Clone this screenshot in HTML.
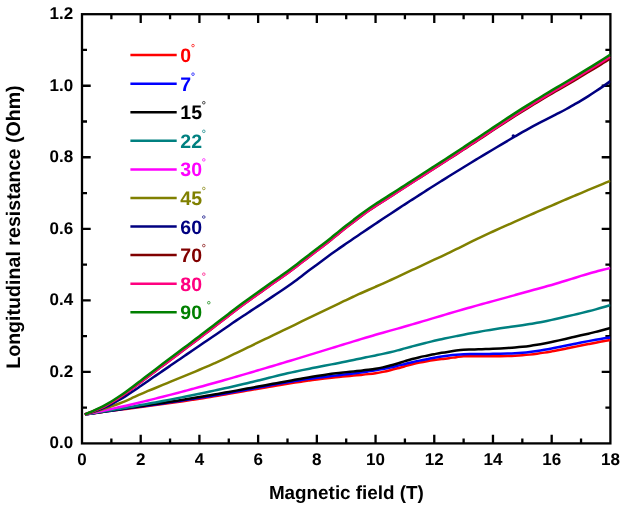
<!DOCTYPE html><html><head><meta charset="utf-8"><style>html,body{margin:0;padding:0;background:#fff}body{width:623px;height:505px;position:relative;overflow:hidden}</style></head><body><svg width="623" height="505" viewBox="0 0 623 505" style="position:absolute;left:0;top:0;will-change:transform" text-rendering="geometricPrecision">
<defs><clipPath id="c"><rect x="82.00" y="14.20" width="528.40" height="429.20"/></clipPath></defs>
<g stroke="#000" stroke-width="2.3" fill="none">
<rect x="82.00" y="14.20" width="528.40" height="429.20"/>
<path d="M111.36,443.40v-5M111.36,14.20v5M140.71,443.40v-8.7M140.71,14.20v8.7M170.07,443.40v-5M170.07,14.20v5M199.42,443.40v-8.7M199.42,14.20v8.7M228.78,443.40v-5M228.78,14.20v5M258.13,443.40v-8.7M258.13,14.20v8.7M287.49,443.40v-5M287.49,14.20v5M316.84,443.40v-8.7M316.84,14.20v8.7M346.20,443.40v-5M346.20,14.20v5M375.56,443.40v-8.7M375.56,14.20v8.7M404.91,443.40v-5M404.91,14.20v5M434.27,443.40v-8.7M434.27,14.20v8.7M463.62,443.40v-5M463.62,14.20v5M492.98,443.40v-8.7M492.98,14.20v8.7M522.33,443.40v-5M522.33,14.20v5M551.69,443.40v-8.7M551.69,14.20v8.7M581.04,443.40v-5M581.04,14.20v5M82.00,407.63h5M610.40,407.63h-5M82.00,371.87h8.7M610.40,371.87h-8.7M82.00,336.10h5M610.40,336.10h-5M82.00,300.33h8.7M610.40,300.33h-8.7M82.00,264.57h5M610.40,264.57h-5M82.00,228.80h8.7M610.40,228.80h-8.7M82.00,193.03h5M610.40,193.03h-5M82.00,157.27h8.7M610.40,157.27h-8.7M82.00,121.50h5M610.40,121.50h-5M82.00,85.73h8.7M610.40,85.73h-8.7M82.00,49.97h5M610.40,49.97h-5"/>
</g>
<g clip-path="url(#c)" fill="none" stroke-width="2.5" stroke-linejoin="round">
<path d="M84.85,414.50 C85.35,414.43 86.39,414.28 87.87,414.07 C89.35,413.86 91.79,413.51 93.74,413.24 C95.70,412.96 97.66,412.69 99.61,412.42 C101.57,412.15 103.53,411.89 105.48,411.62 C107.44,411.36 109.15,411.13 111.36,410.83 C113.56,410.54 116.25,410.18 118.69,409.86 C121.14,409.54 123.59,409.22 126.03,408.90 C128.48,408.57 130.93,408.26 133.37,407.94 C135.82,407.62 138.26,407.30 140.71,406.98 C143.16,406.65 145.60,406.33 148.05,406.01 C150.50,405.69 152.94,405.36 155.39,405.04 C157.84,404.71 160.28,404.38 162.73,404.05 C165.17,403.71 167.62,403.38 170.07,403.04 C172.51,402.70 174.96,402.35 177.41,402.00 C179.85,401.65 182.30,401.30 184.74,400.94 C187.19,400.58 189.64,400.22 192.08,399.84 C194.53,399.47 196.98,399.09 199.42,398.71 C201.87,398.32 204.31,397.93 206.76,397.53 C209.21,397.13 211.65,396.73 214.10,396.32 C216.55,395.91 218.99,395.49 221.44,395.08 C223.89,394.66 226.33,394.23 228.78,393.81 C231.22,393.39 233.67,392.96 236.12,392.53 C238.56,392.10 241.01,391.67 243.46,391.24 C245.90,390.81 248.35,390.38 250.79,389.95 C253.24,389.52 255.69,389.10 258.13,388.67 C260.58,388.24 263.03,387.82 265.47,387.40 C267.92,386.98 270.36,386.56 272.81,386.15 C275.26,385.74 277.70,385.33 280.15,384.93 C282.60,384.53 285.04,384.13 287.49,383.75 C289.94,383.36 292.38,382.97 294.83,382.60 C297.27,382.23 299.72,381.86 302.17,381.50 C304.61,381.15 307.06,380.80 309.51,380.46 C311.95,380.12 314.40,379.79 316.84,379.48 C319.29,379.16 321.74,378.85 324.18,378.56 C326.63,378.26 329.08,377.98 331.52,377.71 C333.97,377.44 336.41,377.18 338.86,376.94 C341.31,376.70 343.75,376.47 346.20,376.25 C348.65,376.03 351.09,375.84 353.54,375.62 C355.99,375.40 358.43,375.17 360.88,374.92 C363.32,374.67 365.77,374.42 368.22,374.13 C370.66,373.84 373.11,373.55 375.56,373.18 C378.00,372.80 380.45,372.36 382.89,371.87 C385.34,371.37 387.79,370.81 390.23,370.22 C392.68,369.63 395.13,368.97 397.57,368.30 C400.02,367.64 402.46,366.90 404.91,366.23 C407.36,365.56 409.80,364.89 412.25,364.29 C414.70,363.68 417.14,363.11 419.59,362.59 C422.04,362.07 424.48,361.60 426.93,361.16 C429.37,360.73 431.82,360.34 434.27,359.98 C436.71,359.62 439.16,359.30 441.61,359.01 C444.05,358.71 446.50,358.53 448.94,358.22 C451.39,357.92 453.84,357.50 456.28,357.17 C458.73,356.85 461.18,356.43 463.62,356.26 C466.07,356.10 468.51,356.18 470.96,356.17 C473.41,356.15 475.85,356.15 478.30,356.15 C480.75,356.15 483.19,356.17 485.64,356.18 C488.09,356.18 490.53,356.20 492.98,356.20 C495.42,356.19 497.87,356.19 500.32,356.16 C502.76,356.14 505.21,356.10 507.66,356.03 C510.10,355.97 512.55,355.88 514.99,355.76 C517.44,355.64 519.89,355.49 522.33,355.30 C524.78,355.11 527.23,354.89 529.67,354.62 C532.12,354.36 534.56,354.06 537.01,353.72 C539.46,353.39 541.90,353.02 544.35,352.62 C546.80,352.23 549.24,351.80 551.69,351.37 C554.14,350.93 556.58,350.46 559.03,349.99 C561.47,349.52 563.92,349.02 566.37,348.53 C568.81,348.04 571.26,347.54 573.71,347.04 C576.15,346.54 578.60,346.04 581.04,345.55 C583.49,345.06 585.94,344.57 588.38,344.09 C590.83,343.61 593.28,343.12 595.72,342.66 C598.17,342.20 600.61,341.74 603.06,341.30 C605.51,340.86 609.18,340.25 610.40,340.04" stroke="#ff0000"/>
<path d="M84.85,414.50 C85.35,414.43 86.39,414.27 87.87,414.06 C89.35,413.84 91.79,413.48 93.74,413.20 C95.70,412.92 97.66,412.63 99.61,412.35 C101.57,412.07 103.53,411.79 105.48,411.51 C107.44,411.23 109.15,410.99 111.36,410.68 C113.56,410.36 116.25,409.98 118.69,409.64 C121.14,409.29 123.59,408.95 126.03,408.60 C128.48,408.26 130.93,407.92 133.37,407.57 C135.82,407.23 138.26,406.88 140.71,406.54 C143.16,406.19 145.60,405.84 148.05,405.50 C150.50,405.15 152.94,404.80 155.39,404.45 C157.84,404.10 160.28,403.75 162.73,403.39 C165.17,403.04 167.62,402.68 170.07,402.32 C172.51,401.96 174.96,401.60 177.41,401.23 C179.85,400.87 182.30,400.50 184.74,400.13 C187.19,399.75 189.64,399.38 192.08,399.00 C194.53,398.62 196.98,398.23 199.42,397.84 C201.87,397.46 204.31,397.06 206.76,396.66 C209.21,396.27 211.65,395.86 214.10,395.45 C216.55,395.04 218.99,394.63 221.44,394.21 C223.89,393.79 226.33,393.36 228.78,392.93 C231.22,392.49 233.67,392.05 236.12,391.61 C238.56,391.17 241.01,390.72 243.46,390.26 C245.90,389.81 248.35,389.36 250.79,388.90 C253.24,388.45 255.69,387.99 258.13,387.54 C260.58,387.08 263.03,386.63 265.47,386.18 C267.92,385.73 270.36,385.28 272.81,384.83 C275.26,384.39 277.70,383.95 280.15,383.52 C282.60,383.09 285.04,382.66 287.49,382.25 C289.94,381.83 292.38,381.42 294.83,381.03 C297.27,380.63 299.72,380.24 302.17,379.87 C304.61,379.50 307.06,379.13 309.51,378.79 C311.95,378.44 314.40,378.11 316.84,377.79 C319.29,377.48 321.74,377.18 324.18,376.89 C326.63,376.59 329.08,376.32 331.52,376.04 C333.97,375.76 336.41,375.49 338.86,375.21 C341.31,374.93 343.75,374.65 346.20,374.36 C348.65,374.07 351.09,373.77 353.54,373.45 C355.99,373.14 358.43,372.80 360.88,372.45 C363.32,372.11 365.77,371.75 368.22,371.39 C370.66,371.03 373.11,370.67 375.56,370.27 C378.00,369.88 380.45,369.47 382.89,369.02 C385.34,368.56 387.79,368.08 390.23,367.54 C392.68,367.00 395.13,366.39 397.57,365.79 C400.02,365.19 402.46,364.52 404.91,363.92 C407.36,363.31 409.80,362.72 412.25,362.17 C414.70,361.61 417.14,361.10 419.59,360.60 C422.04,360.09 424.48,359.62 426.93,359.15 C429.37,358.68 431.82,358.21 434.27,357.78 C436.71,357.34 439.16,356.92 441.61,356.55 C444.05,356.18 446.50,355.84 448.94,355.55 C451.39,355.26 453.84,355.01 456.28,354.80 C458.73,354.60 461.18,354.42 463.62,354.30 C466.07,354.18 468.51,354.13 470.96,354.07 C473.41,354.01 475.85,353.98 478.30,353.95 C480.75,353.92 483.19,353.91 485.64,353.90 C488.09,353.88 490.53,353.88 492.98,353.86 C495.42,353.83 497.87,353.82 500.32,353.77 C502.76,353.73 505.21,353.68 507.66,353.59 C510.10,353.51 512.55,353.41 514.99,353.27 C517.44,353.13 519.89,352.96 522.33,352.75 C524.78,352.53 527.23,352.28 529.67,351.98 C532.12,351.69 534.56,351.36 537.01,351.00 C539.46,350.63 541.90,350.23 544.35,349.81 C546.80,349.39 549.24,348.94 551.69,348.47 C554.14,348.01 556.58,347.52 559.03,347.03 C561.47,346.54 563.92,346.04 566.37,345.53 C568.81,345.03 571.26,344.52 573.71,344.02 C576.15,343.52 578.60,343.03 581.04,342.55 C583.49,342.06 585.94,341.59 588.38,341.12 C590.83,340.66 593.28,340.20 595.72,339.77 C598.17,339.33 600.61,338.91 603.06,338.51 C605.51,338.12 609.18,337.58 610.40,337.39" stroke="#0000ff"/>
<path d="M84.85,414.50 C85.35,414.42 86.39,414.26 87.87,414.04 C89.35,413.81 91.79,413.44 93.74,413.15 C95.70,412.85 97.66,412.56 99.61,412.27 C101.57,411.98 103.53,411.69 105.48,411.40 C107.44,411.11 109.15,410.85 111.36,410.53 C113.56,410.20 116.25,409.81 118.69,409.45 C121.14,409.09 123.59,408.73 126.03,408.37 C128.48,408.01 130.93,407.65 133.37,407.29 C135.82,406.93 138.26,406.57 140.71,406.20 C143.16,405.84 145.60,405.48 148.05,405.11 C150.50,404.75 152.94,404.38 155.39,404.02 C157.84,403.65 160.28,403.28 162.73,402.91 C165.17,402.53 167.62,402.16 170.07,401.78 C172.51,401.40 174.96,401.02 177.41,400.64 C179.85,400.25 182.30,399.86 184.74,399.47 C187.19,399.08 189.64,398.68 192.08,398.28 C194.53,397.88 196.98,397.48 199.42,397.07 C201.87,396.66 204.31,396.24 206.76,395.82 C209.21,395.40 211.65,394.98 214.10,394.55 C216.55,394.12 218.99,393.69 221.44,393.26 C223.89,392.82 226.33,392.38 228.78,391.94 C231.22,391.50 233.67,391.06 236.12,390.61 C238.56,390.17 241.01,389.72 243.46,389.27 C245.90,388.82 248.35,388.37 250.79,387.92 C253.24,387.47 255.69,387.02 258.13,386.56 C260.58,386.11 263.03,385.66 265.47,385.20 C267.92,384.75 270.36,384.29 272.81,383.84 C275.26,383.39 277.70,382.94 280.15,382.49 C282.60,382.03 285.04,381.58 287.49,381.14 C289.94,380.69 292.38,380.24 294.83,379.80 C297.27,379.36 299.72,378.92 302.17,378.49 C304.61,378.06 307.06,377.64 309.51,377.23 C311.95,376.81 314.40,376.41 316.84,376.02 C319.29,375.63 321.74,375.25 324.18,374.89 C326.63,374.53 329.08,374.18 331.52,373.85 C333.97,373.52 336.41,373.21 338.86,372.92 C341.31,372.63 343.75,372.37 346.20,372.12 C348.65,371.87 351.09,371.66 353.54,371.42 C355.99,371.18 358.43,370.95 360.88,370.69 C363.32,370.43 365.77,370.17 368.22,369.85 C370.66,369.53 373.11,369.21 375.56,368.79 C378.00,368.37 380.45,367.89 382.89,367.35 C385.34,366.80 387.79,366.19 390.23,365.54 C392.68,364.89 395.13,364.16 397.57,363.43 C400.02,362.70 402.46,361.89 404.91,361.15 C407.36,360.41 409.80,359.65 412.25,358.99 C414.70,358.33 417.14,357.73 419.59,357.17 C422.04,356.61 424.48,356.16 426.93,355.66 C429.37,355.16 431.82,354.66 434.27,354.18 C436.71,353.71 439.16,353.22 441.61,352.80 C444.05,352.37 446.50,352.00 448.94,351.64 C451.39,351.27 453.84,350.91 456.28,350.61 C458.73,350.31 461.18,350.01 463.62,349.83 C466.07,349.64 468.51,349.60 470.96,349.51 C473.41,349.43 475.85,349.38 478.30,349.31 C480.75,349.24 483.19,349.19 485.64,349.10 C488.09,349.02 490.53,348.91 492.98,348.80 C495.42,348.68 497.87,348.54 500.32,348.40 C502.76,348.27 505.21,348.13 507.66,347.97 C510.10,347.81 512.55,347.65 514.99,347.45 C517.44,347.25 519.89,347.04 522.33,346.79 C524.78,346.53 527.23,346.25 529.67,345.93 C532.12,345.60 534.56,345.23 537.01,344.82 C539.46,344.42 541.90,343.97 544.35,343.50 C546.80,343.02 549.24,342.52 551.69,341.99 C554.14,341.47 556.58,340.93 559.03,340.37 C561.47,339.82 563.92,339.25 566.37,338.69 C568.81,338.12 571.26,337.55 573.71,336.99 C576.15,336.43 578.60,335.88 581.04,335.33 C583.49,334.77 585.94,334.23 588.38,333.66 C590.83,333.08 593.28,332.49 595.72,331.88 C598.17,331.27 600.61,330.64 603.06,329.99 C605.51,329.34 609.18,328.32 610.40,327.98" stroke="#000000"/>
<path d="M84.85,414.50 C85.35,414.42 86.39,414.25 87.87,414.02 C89.35,413.78 91.79,413.40 93.74,413.08 C95.70,412.77 97.66,412.45 99.61,412.14 C101.57,411.82 103.53,411.50 105.48,411.17 C107.44,410.85 109.15,410.57 111.36,410.20 C113.56,409.83 116.25,409.37 118.69,408.96 C121.14,408.54 123.59,408.12 126.03,407.69 C128.48,407.27 130.93,406.84 133.37,406.41 C135.82,405.97 138.26,405.54 140.71,405.10 C143.16,404.66 145.60,404.21 148.05,403.77 C150.50,403.32 152.94,402.86 155.39,402.41 C157.84,401.95 160.28,401.49 162.73,401.03 C165.17,400.56 167.62,400.10 170.07,399.62 C172.51,399.15 174.96,398.67 177.41,398.19 C179.85,397.71 182.30,397.23 184.74,396.74 C187.19,396.25 189.64,395.75 192.08,395.26 C194.53,394.76 196.98,394.26 199.42,393.75 C201.87,393.24 204.31,392.73 206.76,392.22 C209.21,391.70 211.65,391.18 214.10,390.65 C216.55,390.13 218.99,389.60 221.44,389.06 C223.89,388.52 226.33,387.98 228.78,387.43 C231.22,386.88 233.67,386.33 236.12,385.77 C238.56,385.21 241.01,384.64 243.46,384.07 C245.90,383.49 248.35,382.91 250.79,382.33 C253.24,381.74 255.69,381.14 258.13,380.54 C260.58,379.94 263.03,379.33 265.47,378.72 C267.92,378.11 270.36,377.49 272.81,376.88 C275.26,376.28 277.70,375.67 280.15,375.08 C282.60,374.49 285.04,373.91 287.49,373.34 C289.94,372.78 292.38,372.24 294.83,371.70 C297.27,371.17 299.72,370.66 302.17,370.15 C304.61,369.64 307.06,369.15 309.51,368.66 C311.95,368.17 314.40,367.69 316.84,367.22 C319.29,366.74 321.74,366.27 324.18,365.80 C326.63,365.33 329.08,364.86 331.52,364.39 C333.97,363.91 336.41,363.44 338.86,362.96 C341.31,362.48 343.75,362.00 346.20,361.51 C348.65,361.01 351.09,360.51 353.54,360.00 C355.99,359.48 358.43,358.94 360.88,358.41 C363.32,357.89 365.77,357.37 368.22,356.87 C370.66,356.37 373.11,355.90 375.56,355.40 C378.00,354.90 380.45,354.41 382.89,353.88 C385.34,353.36 387.79,352.82 390.23,352.24 C392.68,351.66 395.13,351.05 397.57,350.40 C400.02,349.75 402.46,349.04 404.91,348.37 C407.36,347.69 409.80,347.01 412.25,346.36 C414.70,345.70 417.14,345.05 419.59,344.42 C422.04,343.80 424.48,343.18 426.93,342.59 C429.37,341.99 431.82,341.41 434.27,340.84 C436.71,340.28 439.16,339.73 441.61,339.19 C444.05,338.66 446.50,338.14 448.94,337.63 C451.39,337.12 453.84,336.62 456.28,336.13 C458.73,335.64 461.18,335.14 463.62,334.66 C466.07,334.18 468.51,333.71 470.96,333.25 C473.41,332.79 475.85,332.34 478.30,331.90 C480.75,331.47 483.19,331.04 485.64,330.63 C488.09,330.22 490.53,329.83 492.98,329.45 C495.42,329.07 497.87,328.71 500.32,328.35 C502.76,327.98 505.21,327.64 507.66,327.29 C510.10,326.93 512.55,326.59 514.99,326.24 C517.44,325.89 519.89,325.54 522.33,325.17 C524.78,324.81 527.23,324.45 529.67,324.05 C532.12,323.66 534.56,323.25 537.01,322.82 C539.46,322.38 541.90,321.91 544.35,321.42 C546.80,320.93 549.24,320.42 551.69,319.90 C554.14,319.37 556.58,318.83 559.03,318.28 C561.47,317.72 563.92,317.16 566.37,316.59 C568.81,316.02 571.26,315.44 573.71,314.86 C576.15,314.28 578.60,313.71 581.04,313.13 C583.49,312.54 585.94,311.95 588.38,311.33 C590.83,310.71 593.28,310.07 595.72,309.39 C598.17,308.72 600.61,308.03 603.06,307.31 C605.51,306.58 609.18,305.43 610.40,305.05" stroke="#008080"/>
<path d="M84.85,414.50 C85.35,414.40 86.39,414.19 87.87,413.89 C89.35,413.60 91.79,413.11 93.74,412.70 C95.70,412.30 97.66,411.90 99.61,411.48 C101.57,411.07 103.53,410.66 105.48,410.24 C107.44,409.82 109.15,409.45 111.36,408.96 C113.56,408.48 116.25,407.88 118.69,407.34 C121.14,406.79 123.59,406.23 126.03,405.67 C128.48,405.10 130.93,404.53 133.37,403.96 C135.82,403.38 138.26,402.80 140.71,402.21 C143.16,401.63 145.60,401.03 148.05,400.43 C150.50,399.83 152.94,399.23 155.39,398.62 C157.84,398.01 160.28,397.39 162.73,396.77 C165.17,396.15 167.62,395.52 170.07,394.89 C172.51,394.26 174.96,393.62 177.41,392.98 C179.85,392.34 182.30,391.69 184.74,391.04 C187.19,390.39 189.64,389.73 192.08,389.07 C194.53,388.41 196.98,387.74 199.42,387.07 C201.87,386.40 204.31,385.73 206.76,385.05 C209.21,384.38 211.65,383.70 214.10,383.01 C216.55,382.33 218.99,381.64 221.44,380.94 C223.89,380.25 226.33,379.56 228.78,378.86 C231.22,378.16 233.67,377.45 236.12,376.75 C238.56,376.04 241.01,375.33 243.46,374.62 C245.90,373.91 248.35,373.20 250.79,372.48 C253.24,371.76 255.69,371.04 258.13,370.32 C260.58,369.60 263.03,368.87 265.47,368.15 C267.92,367.42 270.36,366.69 272.81,365.96 C275.26,365.23 277.70,364.49 280.15,363.76 C282.60,363.03 285.04,362.29 287.49,361.55 C289.94,360.81 292.38,360.07 294.83,359.33 C297.27,358.59 299.72,357.85 302.17,357.10 C304.61,356.36 307.06,355.62 309.51,354.87 C311.95,354.13 314.40,353.38 316.84,352.63 C319.29,351.89 321.74,351.14 324.18,350.39 C326.63,349.64 329.08,348.89 331.52,348.14 C333.97,347.40 336.41,346.65 338.86,345.90 C341.31,345.15 343.75,344.40 346.20,343.65 C348.65,342.90 351.09,342.15 353.54,341.41 C355.99,340.66 358.43,339.90 360.88,339.16 C363.32,338.42 365.77,337.68 368.22,336.96 C370.66,336.23 373.11,335.52 375.56,334.82 C378.00,334.11 380.45,333.41 382.89,332.72 C385.34,332.02 387.79,331.33 390.23,330.64 C392.68,329.95 395.13,329.27 397.57,328.58 C400.02,327.89 402.46,327.20 404.91,326.50 C407.36,325.81 409.80,325.11 412.25,324.40 C414.70,323.69 417.14,322.97 419.59,322.25 C422.04,321.53 424.48,320.80 426.93,320.08 C429.37,319.35 431.82,318.62 434.27,317.90 C436.71,317.17 439.16,316.45 441.61,315.72 C444.05,315.00 446.50,314.28 448.94,313.56 C451.39,312.84 453.84,312.12 456.28,311.41 C458.73,310.69 461.18,309.98 463.62,309.27 C466.07,308.57 468.51,307.87 470.96,307.18 C473.41,306.49 475.85,305.81 478.30,305.14 C480.75,304.46 483.19,303.80 485.64,303.13 C488.09,302.47 490.53,301.81 492.98,301.14 C495.42,300.48 497.87,299.82 500.32,299.15 C502.76,298.48 505.21,297.81 507.66,297.13 C510.10,296.46 512.55,295.77 514.99,295.08 C517.44,294.39 519.89,293.70 522.33,293.02 C524.78,292.33 527.23,291.65 529.67,290.97 C532.12,290.29 534.56,289.61 537.01,288.94 C539.46,288.27 541.90,287.59 544.35,286.92 C546.80,286.25 549.24,285.61 551.69,284.92 C554.14,284.24 556.58,283.55 559.03,282.82 C561.47,282.10 563.92,281.33 566.37,280.56 C568.81,279.80 571.26,279.00 573.71,278.23 C576.15,277.45 578.60,276.67 581.04,275.92 C583.49,275.16 585.94,274.41 588.38,273.71 C590.83,273.01 593.28,272.35 595.72,271.70 C598.17,271.05 600.61,270.45 603.06,269.83 C605.51,269.21 609.18,268.29 610.40,267.98" stroke="#ff00ff"/>
<path d="M84.85,414.50 C85.35,414.36 86.39,414.09 87.87,413.67 C89.35,413.25 91.79,412.57 93.74,412.00 C95.70,411.43 97.66,410.85 99.61,410.24 C101.57,409.64 103.53,409.02 105.48,408.38 C107.44,407.74 109.15,407.17 111.36,406.39 C113.56,405.62 116.25,404.65 118.69,403.72 C121.14,402.79 123.59,401.85 126.03,400.81 C128.48,399.76 130.93,398.58 133.37,397.45 C135.82,396.32 138.26,395.11 140.71,394.03 C143.16,392.95 145.60,391.97 148.05,390.96 C150.50,389.96 152.94,389.00 155.39,388.00 C157.84,387.00 160.28,385.97 162.73,384.94 C165.17,383.92 167.62,382.86 170.07,381.84 C172.51,380.83 174.96,379.84 177.41,378.85 C179.85,377.86 182.30,376.90 184.74,375.91 C187.19,374.91 189.64,373.91 192.08,372.88 C194.53,371.85 196.98,370.78 199.42,369.74 C201.87,368.70 204.31,367.68 206.76,366.64 C209.21,365.59 211.65,364.55 214.10,363.47 C216.55,362.38 218.99,361.27 221.44,360.13 C223.89,358.99 226.33,357.79 228.78,356.61 C231.22,355.44 233.67,354.26 236.12,353.09 C238.56,351.91 241.01,350.73 243.46,349.55 C245.90,348.38 248.35,347.20 250.79,346.02 C253.24,344.84 255.69,343.66 258.13,342.48 C260.58,341.30 263.03,340.12 265.47,338.94 C267.92,337.76 270.36,336.58 272.81,335.39 C275.26,334.21 277.70,333.03 280.15,331.85 C282.60,330.67 285.04,329.49 287.49,328.30 C289.94,327.12 292.38,325.94 294.83,324.76 C297.27,323.58 299.72,322.40 302.17,321.22 C304.61,320.04 307.06,318.86 309.51,317.68 C311.95,316.50 314.40,315.32 316.84,314.14 C319.29,312.96 321.74,311.78 324.18,310.60 C326.63,309.42 329.08,308.25 331.52,307.07 C333.97,305.90 336.41,304.72 338.86,303.55 C341.31,302.37 343.75,301.19 346.20,300.02 C348.65,298.86 351.09,297.71 353.54,296.58 C355.99,295.45 358.43,294.35 360.88,293.25 C363.32,292.15 365.77,291.07 368.22,289.99 C370.66,288.91 373.11,287.84 375.56,286.77 C378.00,285.69 380.45,284.62 382.89,283.53 C385.34,282.45 387.79,281.36 390.23,280.25 C392.68,279.14 395.13,278.02 397.57,276.88 C400.02,275.74 402.46,274.57 404.91,273.42 C407.36,272.27 409.80,271.12 412.25,269.97 C414.70,268.83 417.14,267.68 419.59,266.53 C422.04,265.39 424.48,264.25 426.93,263.11 C429.37,261.97 431.82,260.83 434.27,259.69 C436.71,258.55 439.16,257.43 441.61,256.28 C444.05,255.13 446.50,253.97 448.94,252.79 C451.39,251.62 453.84,250.42 456.28,249.22 C458.73,248.02 461.18,246.81 463.62,245.60 C466.07,244.39 468.51,243.18 470.96,241.98 C473.41,240.77 475.85,239.57 478.30,238.39 C480.75,237.21 483.19,236.03 485.64,234.88 C488.09,233.74 490.53,232.62 492.98,231.50 C495.42,230.39 497.87,229.30 500.32,228.20 C502.76,227.11 505.21,226.01 507.66,224.92 C510.10,223.83 512.55,222.74 514.99,221.65 C517.44,220.57 519.89,219.48 522.33,218.40 C524.78,217.32 527.23,216.24 529.67,215.17 C532.12,214.09 534.56,213.02 537.01,211.95 C539.46,210.88 541.90,209.81 544.35,208.75 C546.80,207.69 549.24,206.63 551.69,205.57 C554.14,204.51 556.58,203.46 559.03,202.40 C561.47,201.35 563.92,200.30 566.37,199.26 C568.81,198.21 571.26,197.17 573.71,196.13 C576.15,195.09 578.60,194.06 581.04,193.03 C583.49,191.99 585.94,190.97 588.38,189.94 C590.83,188.91 593.28,187.89 595.72,186.87 C598.17,185.86 600.61,184.84 603.06,183.83 C605.51,182.82 609.18,181.31 610.40,180.80" stroke="#808000"/>
<path d="M84.85,414.32 C85.35,414.17 86.39,413.89 87.87,413.43 C89.35,412.97 91.79,412.23 93.74,411.57 C95.70,410.92 97.66,410.23 99.61,409.48 C101.57,408.73 103.53,407.94 105.48,407.08 C107.44,406.22 109.15,405.43 111.36,404.30 C113.56,403.16 116.25,401.69 118.69,400.28 C121.14,398.86 123.59,397.36 126.03,395.82 C128.48,394.27 130.93,392.65 133.37,391.01 C135.82,389.37 138.26,387.67 140.71,385.99 C143.16,384.31 145.60,382.60 148.05,380.92 C150.50,379.24 152.94,377.56 155.39,375.89 C157.84,374.21 160.28,372.55 162.73,370.88 C165.17,369.20 167.62,367.52 170.07,365.84 C172.51,364.16 174.96,362.47 177.41,360.79 C179.85,359.10 182.30,357.41 184.74,355.73 C187.19,354.05 189.64,352.36 192.08,350.69 C194.53,349.01 196.98,347.34 199.42,345.68 C201.87,344.01 204.31,342.36 206.76,340.70 C209.21,339.04 211.65,337.39 214.10,335.73 C216.55,334.08 218.99,332.42 221.44,330.75 C223.89,329.08 226.33,327.41 228.78,325.72 C231.22,324.04 233.67,322.31 236.12,320.64 C238.56,318.97 241.01,317.32 243.46,315.70 C245.90,314.08 248.35,312.51 250.79,310.92 C253.24,309.33 255.69,307.77 258.13,306.17 C260.58,304.56 263.03,302.94 265.47,301.31 C267.92,299.68 270.36,298.03 272.81,296.40 C275.26,294.77 277.70,293.19 280.15,291.54 C282.60,289.90 285.04,288.25 287.49,286.53 C289.94,284.80 292.38,283.01 294.83,281.20 C297.27,279.38 299.72,277.48 302.17,275.63 C304.61,273.78 307.06,271.94 309.51,270.11 C311.95,268.28 314.40,266.47 316.84,264.65 C319.29,262.82 321.74,260.97 324.18,259.16 C326.63,257.35 329.08,255.56 331.52,253.80 C333.97,252.05 336.41,250.34 338.86,248.63 C341.31,246.93 343.75,245.26 346.20,243.58 C348.65,241.90 351.09,240.23 353.54,238.56 C355.99,236.89 358.43,235.23 360.88,233.57 C363.32,231.91 365.77,230.26 368.22,228.62 C370.66,226.97 373.11,225.33 375.56,223.69 C378.00,222.06 380.45,220.43 382.89,218.81 C385.34,217.18 387.79,215.56 390.23,213.95 C392.68,212.34 395.13,210.73 397.57,209.13 C400.02,207.53 402.46,205.93 404.91,204.34 C407.36,202.75 409.80,201.16 412.25,199.58 C414.70,198.01 417.14,196.43 419.59,194.86 C422.04,193.29 424.48,191.73 426.93,190.17 C429.37,188.62 431.82,187.06 434.27,185.52 C436.71,183.97 439.16,182.43 441.61,180.89 C444.05,179.36 446.50,177.83 448.94,176.30 C451.39,174.78 453.84,173.26 456.28,171.74 C458.73,170.23 461.18,168.72 463.62,167.22 C466.07,165.72 468.51,164.22 470.96,162.73 C473.41,161.23 475.85,159.75 478.30,158.27 C480.75,156.79 483.19,155.31 485.64,153.84 C488.09,152.37 490.53,150.90 492.98,149.45 C495.42,147.99 497.87,146.53 500.32,145.08 C502.76,143.63 505.21,142.19 507.66,140.75 C510.10,139.31 512.55,137.88 514.99,136.45 C517.44,135.02 519.89,133.58 522.33,132.18 C524.78,130.78 527.23,129.40 529.67,128.06 C532.12,126.73 534.56,125.44 537.01,124.16 C539.46,122.87 541.90,121.63 544.35,120.36 C546.80,119.09 549.24,117.82 551.69,116.57 C554.14,115.31 556.58,114.12 559.03,112.85 C561.47,111.59 563.92,110.32 566.37,108.98 C568.81,107.64 571.26,106.21 573.71,104.82 C576.15,103.42 578.60,102.07 581.04,100.62 C583.49,99.17 585.94,97.69 588.38,96.14 C590.83,94.59 593.28,92.96 595.72,91.33 C598.17,89.70 600.61,88.06 603.06,86.37 C605.51,84.67 609.18,82.01 610.40,81.14" stroke="#000080"/>
<path d="M84.85,414.42 C85.35,414.24 86.39,413.88 87.87,413.32 C89.35,412.76 91.79,411.86 93.74,411.07 C95.70,410.29 97.66,409.48 99.61,408.62 C101.57,407.76 103.53,406.89 105.48,405.90 C107.44,404.90 109.15,403.94 111.36,402.64 C113.56,401.34 116.25,399.66 118.69,398.07 C121.14,396.49 123.59,394.82 126.03,393.11 C128.48,391.39 130.93,389.59 133.37,387.78 C135.82,385.97 138.26,384.09 140.71,382.24 C143.16,380.39 145.60,378.51 148.05,376.66 C150.50,374.81 152.94,372.98 155.39,371.15 C157.84,369.32 160.28,367.52 162.73,365.71 C165.17,363.89 167.62,362.10 170.07,360.27 C172.51,358.44 174.96,356.58 177.41,354.74 C179.85,352.90 182.30,351.06 184.74,349.21 C187.19,347.37 189.64,345.52 192.08,343.68 C194.53,341.83 196.98,339.99 199.42,338.14 C201.87,336.29 204.31,334.43 206.76,332.57 C209.21,330.71 211.65,328.84 214.10,326.96 C216.55,325.09 218.99,323.21 221.44,321.32 C223.89,319.44 226.33,317.55 228.78,315.67 C231.22,313.78 233.67,311.86 236.12,310.01 C238.56,308.15 241.01,306.33 243.46,304.54 C245.90,302.74 248.35,301.00 250.79,299.26 C253.24,297.51 255.69,295.80 258.13,294.06 C260.58,292.32 263.03,290.57 265.47,288.82 C267.92,287.08 270.36,285.30 272.81,283.58 C275.26,281.85 277.70,280.17 280.15,278.45 C282.60,276.73 285.04,275.03 287.49,273.26 C289.94,271.49 292.38,269.68 294.83,267.82 C297.27,265.97 299.72,264.02 302.17,262.12 C304.61,260.23 307.06,258.34 309.51,256.46 C311.95,254.58 314.40,252.71 316.84,250.85 C319.29,248.99 321.74,247.19 324.18,245.29 C326.63,243.40 329.08,241.43 331.52,239.45 C333.97,237.48 336.41,235.41 338.86,233.43 C341.31,231.45 343.75,229.50 346.20,227.58 C348.65,225.66 351.09,223.79 353.54,221.93 C355.99,220.06 358.43,218.19 360.88,216.39 C363.32,214.58 365.77,212.78 368.22,211.07 C370.66,209.36 373.11,207.73 375.56,206.13 C378.00,204.53 380.45,203.03 382.89,201.46 C385.34,199.90 387.79,198.31 390.23,196.73 C392.68,195.16 395.13,193.58 397.57,192.01 C400.02,190.43 402.46,188.87 404.91,187.30 C407.36,185.72 409.80,184.14 412.25,182.57 C414.70,180.99 417.14,179.41 419.59,177.84 C422.04,176.26 424.48,174.69 426.93,173.12 C429.37,171.55 431.82,169.97 434.27,168.41 C436.71,166.84 439.16,165.30 441.61,163.75 C444.05,162.19 446.50,160.63 448.94,159.06 C451.39,157.49 453.84,155.91 456.28,154.33 C458.73,152.75 461.18,151.16 463.62,149.57 C466.07,147.98 468.51,146.38 470.96,144.78 C473.41,143.18 475.85,141.58 478.30,139.98 C480.75,138.37 483.19,136.76 485.64,135.16 C488.09,133.55 490.53,131.94 492.98,130.33 C495.42,128.72 497.87,127.12 500.32,125.51 C502.76,123.90 505.21,122.29 507.66,120.70 C510.10,119.11 512.55,117.52 514.99,115.97 C517.44,114.42 519.89,112.89 522.33,111.37 C524.78,109.86 527.23,108.36 529.67,106.87 C532.12,105.37 534.56,103.89 537.01,102.40 C539.46,100.92 541.90,99.43 544.35,97.97 C546.80,96.52 549.24,95.09 551.69,93.66 C554.14,92.24 556.58,90.83 559.03,89.41 C561.47,88.00 563.92,86.59 566.37,85.16 C568.81,83.72 571.26,82.28 573.71,80.82 C576.15,79.36 578.60,77.89 581.04,76.42 C583.49,74.95 585.94,73.49 588.38,72.03 C590.83,70.56 593.28,69.10 595.72,67.60 C598.17,66.11 600.61,64.57 603.06,63.04 C605.51,61.51 609.18,59.20 610.40,58.43" stroke="#800000"/>
<path d="M84.85,414.32 C85.35,414.13 86.39,413.77 87.87,413.22 C89.35,412.66 91.79,411.75 93.74,410.97 C95.70,410.18 97.66,409.38 99.61,408.51 C101.57,407.65 103.53,406.79 105.48,405.79 C107.44,404.79 109.15,403.84 111.36,402.53 C113.56,401.23 116.25,399.56 118.69,397.97 C121.14,396.38 123.59,394.72 126.03,393.00 C128.48,391.29 130.93,389.48 133.37,387.67 C135.82,385.86 138.26,383.99 140.71,382.13 C143.16,380.28 145.60,378.40 148.05,376.56 C150.50,374.71 152.94,372.87 155.39,371.04 C157.84,369.22 160.28,367.41 162.73,365.60 C165.17,363.79 167.62,361.99 170.07,360.16 C172.51,358.33 174.96,356.48 177.41,354.63 C179.85,352.79 182.30,350.95 184.74,349.11 C187.19,347.26 189.64,345.42 192.08,343.57 C194.53,341.73 196.98,339.88 199.42,338.03 C201.87,336.18 204.31,334.32 206.76,332.46 C209.21,330.60 211.65,328.73 214.10,326.85 C216.55,324.98 218.99,323.10 221.44,321.22 C223.89,319.33 226.33,317.45 228.78,315.56 C231.22,313.67 233.67,311.75 236.12,309.90 C238.56,308.04 241.01,306.22 243.46,304.43 C245.90,302.64 248.35,300.90 250.79,299.15 C253.24,297.40 255.69,295.69 258.13,293.95 C260.58,292.21 263.03,290.46 265.47,288.71 C267.92,286.97 270.36,285.20 272.81,283.47 C275.26,281.74 277.70,280.06 280.15,278.34 C282.60,276.62 285.04,274.93 287.49,273.16 C289.94,271.38 292.38,269.57 294.83,267.72 C297.27,265.86 299.72,263.91 302.17,262.02 C304.61,260.12 307.06,258.23 309.51,256.35 C311.95,254.47 314.40,252.60 316.84,250.74 C319.29,248.88 321.74,247.09 324.18,245.19 C326.63,243.29 329.08,241.32 331.52,239.35 C333.97,237.37 336.41,235.31 338.86,233.33 C341.31,231.35 343.75,229.39 346.20,227.47 C348.65,225.55 351.09,223.69 353.54,221.82 C355.99,219.96 358.43,218.09 360.88,216.28 C363.32,214.47 365.77,212.67 368.22,210.96 C370.66,209.25 373.11,207.62 375.56,206.02 C378.00,204.42 380.45,202.92 382.89,201.35 C385.34,199.79 387.79,198.20 390.23,196.63 C392.68,195.05 395.13,193.47 397.57,191.90 C400.02,190.33 402.46,188.76 404.91,187.19 C407.36,185.62 409.80,184.04 412.25,182.46 C414.70,180.88 417.14,179.30 419.59,177.73 C422.04,176.15 424.48,174.59 426.93,173.01 C429.37,171.44 431.82,169.87 434.27,168.30 C436.71,166.72 439.16,165.15 441.61,163.57 C444.05,161.99 446.50,160.40 448.94,158.81 C451.39,157.22 453.84,155.62 456.28,154.02 C458.73,152.41 461.18,150.80 463.62,149.19 C466.07,147.57 468.51,145.95 470.96,144.33 C473.41,142.71 475.85,141.08 478.30,139.46 C480.75,137.83 483.19,136.20 485.64,134.57 C488.09,132.94 490.53,131.31 492.98,129.68 C495.42,128.05 497.87,126.41 500.32,124.78 C502.76,123.16 505.21,121.52 507.66,119.90 C510.10,118.29 512.55,116.69 514.99,115.11 C517.44,113.53 519.89,111.99 522.33,110.44 C524.78,108.90 527.23,107.39 529.67,105.87 C532.12,104.35 534.56,102.84 537.01,101.34 C539.46,99.83 541.90,98.32 544.35,96.84 C546.80,95.36 549.24,93.91 551.69,92.46 C554.14,91.01 556.58,89.58 559.03,88.14 C561.47,86.70 563.92,85.27 566.37,83.82 C568.81,82.36 571.26,80.89 573.71,79.41 C576.15,77.93 578.60,76.43 581.04,74.94 C583.49,73.45 585.94,71.97 588.38,70.48 C590.83,68.99 593.28,67.51 595.72,65.99 C598.17,64.47 600.61,62.91 603.06,61.36 C605.51,59.81 609.18,57.46 610.40,56.68" stroke="#ff0080"/>
<path d="M84.85,414.32 C85.35,414.11 86.39,413.70 87.87,413.07 C89.35,412.44 91.79,411.42 93.74,410.54 C95.70,409.66 97.66,408.76 99.61,407.81 C101.57,406.85 103.53,405.86 105.48,404.80 C107.44,403.74 109.15,402.79 111.36,401.45 C113.56,400.12 116.25,398.40 118.69,396.77 C121.14,395.15 123.59,393.45 126.03,391.70 C128.48,389.95 130.93,388.12 133.37,386.28 C135.82,384.44 138.26,382.54 140.71,380.65 C143.16,378.77 145.60,376.87 148.05,374.99 C150.50,373.11 152.94,371.24 155.39,369.39 C157.84,367.53 160.28,365.70 162.73,363.85 C165.17,362.01 167.62,360.17 170.07,358.32 C172.51,356.48 174.96,354.64 177.41,352.79 C179.85,350.95 182.30,349.11 184.74,347.26 C187.19,345.42 189.64,343.57 192.08,341.72 C194.53,339.88 196.98,338.03 199.42,336.18 C201.87,334.33 204.31,332.47 206.76,330.61 C209.21,328.74 211.65,326.87 214.10,324.99 C216.55,323.12 218.99,321.24 221.44,319.35 C223.89,317.47 226.33,315.58 228.78,313.69 C231.22,311.80 233.67,309.88 236.12,308.03 C238.56,306.17 241.01,304.35 243.46,302.55 C245.90,300.76 248.35,299.02 250.79,297.27 C253.24,295.52 255.69,293.81 258.13,292.07 C260.58,290.33 263.03,288.58 265.47,286.83 C267.92,285.08 270.36,283.31 272.81,281.58 C275.26,279.85 277.70,278.17 280.15,276.45 C282.60,274.73 285.04,273.03 287.49,271.26 C289.94,269.48 292.38,267.67 294.83,265.81 C297.27,263.95 299.72,262.00 302.17,260.11 C304.61,258.21 307.06,256.32 309.51,254.44 C311.95,252.56 314.40,250.69 316.84,248.83 C319.29,246.97 321.74,245.17 324.18,243.27 C326.63,241.37 329.08,239.40 331.52,237.42 C333.97,235.45 336.41,233.38 338.86,231.40 C341.31,229.42 343.75,227.46 346.20,225.54 C348.65,223.62 351.09,221.75 353.54,219.89 C355.99,218.02 358.43,216.15 360.88,214.34 C363.32,212.53 365.77,210.73 368.22,209.02 C370.66,207.31 373.11,205.68 375.56,204.07 C378.00,202.47 380.45,200.97 382.89,199.40 C385.34,197.84 387.79,196.25 390.23,194.67 C392.68,193.09 395.13,191.51 397.57,189.94 C400.02,188.37 402.46,186.80 404.91,185.23 C407.36,183.65 409.80,182.07 412.25,180.49 C414.70,178.91 417.14,177.33 419.59,175.76 C422.04,174.18 424.48,172.61 426.93,171.04 C429.37,169.47 431.82,167.89 434.27,166.32 C436.71,164.74 439.16,163.17 441.61,161.59 C444.05,160.00 446.50,158.42 448.94,156.83 C451.39,155.23 453.84,153.63 456.28,152.03 C458.73,150.42 461.18,148.81 463.62,147.19 C466.07,145.58 468.51,143.96 470.96,142.33 C473.41,140.71 475.85,139.08 478.30,137.45 C480.75,135.83 483.19,134.19 485.64,132.56 C488.09,130.93 490.53,129.30 492.98,127.66 C495.42,126.03 497.87,124.40 500.32,122.77 C502.76,121.14 505.21,119.50 507.66,117.88 C510.10,116.27 512.55,114.66 514.99,113.09 C517.44,111.51 519.89,109.96 522.33,108.42 C524.78,106.88 527.23,105.36 529.67,103.84 C532.12,102.32 534.56,100.81 537.01,99.30 C539.46,97.80 541.90,96.28 544.35,94.80 C546.80,93.32 549.24,91.87 551.69,90.42 C554.14,88.97 556.58,87.54 559.03,86.10 C561.47,84.65 563.92,83.22 566.37,81.77 C568.81,80.31 571.26,78.84 573.71,77.36 C576.15,75.88 578.60,74.37 581.04,72.88 C583.49,71.39 585.94,69.91 588.38,68.42 C590.83,66.92 593.28,65.44 595.72,63.92 C598.17,62.40 600.61,60.84 603.06,59.29 C605.51,57.73 609.18,55.38 610.40,54.60" stroke="#008000"/>
<circle cx="513.3" cy="135.9" r="1.7" fill="#000080"/>
</g>
<g font-family="Liberation Sans, sans-serif" font-weight="bold" font-size="17px" fill="#000">
<text x="82.00" y="465.2" text-anchor="middle">0</text>
<text x="140.71" y="465.2" text-anchor="middle">2</text>
<text x="199.42" y="465.2" text-anchor="middle">4</text>
<text x="258.13" y="465.2" text-anchor="middle">6</text>
<text x="316.84" y="465.2" text-anchor="middle">8</text>
<text x="375.56" y="465.2" text-anchor="middle">10</text>
<text x="434.27" y="465.2" text-anchor="middle">12</text>
<text x="492.98" y="465.2" text-anchor="middle">14</text>
<text x="551.69" y="465.2" text-anchor="middle">16</text>
<text x="610.40" y="465.2" text-anchor="middle">18</text>
<text x="73.2" y="448.30" text-anchor="end">0.0</text>
<text x="73.2" y="376.77" text-anchor="end">0.2</text>
<text x="73.2" y="305.23" text-anchor="end">0.4</text>
<text x="73.2" y="233.70" text-anchor="end">0.6</text>
<text x="73.2" y="162.17" text-anchor="end">0.8</text>
<text x="73.2" y="90.63" text-anchor="end">1.0</text>
<text x="73.2" y="19.10" text-anchor="end">1.2</text>
</g>
<text font-family="Liberation Sans, sans-serif" font-weight="bold" font-size="18.85px" x="346.4" y="498.6" text-anchor="middle">Magnetic field (T)</text>
<text font-family="Liberation Sans, sans-serif" font-weight="bold" font-size="19.64px" transform="translate(20,227.1) rotate(-90)" text-anchor="middle">Longitudinal resistance (Ohm)</text>
<g font-family="Liberation Sans, sans-serif" font-weight="bold" font-size="19.5px">
<path d="M130.4,55.10H176.7" stroke="#ff0000" stroke-width="2.5"/>
<text x="180.3" y="62.20" fill="#ff0000">0</text>
<circle cx="193.00" cy="45.60" r="1.3" fill="none" stroke="#ff0000" stroke-width="0.7"/>
<path d="M130.4,83.67H176.7" stroke="#0000ff" stroke-width="2.5"/>
<text x="180.3" y="90.77" fill="#0000ff">7</text>
<circle cx="193.00" cy="74.17" r="1.3" fill="none" stroke="#0000ff" stroke-width="0.7"/>
<path d="M130.4,112.24H176.7" stroke="#000000" stroke-width="2.5"/>
<text x="180.3" y="119.34" fill="#000000">15</text>
<circle cx="203.80" cy="102.74" r="1.3" fill="none" stroke="#000000" stroke-width="0.7"/>
<path d="M130.4,140.81H176.7" stroke="#008080" stroke-width="2.5"/>
<text x="180.3" y="147.91" fill="#008080">22</text>
<circle cx="203.80" cy="131.31" r="1.3" fill="none" stroke="#008080" stroke-width="0.7"/>
<path d="M130.4,169.38H176.7" stroke="#ff00ff" stroke-width="2.5"/>
<text x="180.3" y="176.48" fill="#ff00ff">30</text>
<circle cx="203.80" cy="159.88" r="1.3" fill="none" stroke="#ff00ff" stroke-width="0.7"/>
<path d="M130.4,197.95H176.7" stroke="#808000" stroke-width="2.5"/>
<text x="180.3" y="205.05" fill="#808000">45</text>
<circle cx="203.80" cy="188.45" r="1.3" fill="none" stroke="#808000" stroke-width="0.7"/>
<path d="M130.4,226.52H176.7" stroke="#000080" stroke-width="2.5"/>
<text x="180.3" y="233.62" fill="#000080">60</text>
<circle cx="203.80" cy="217.02" r="1.3" fill="none" stroke="#000080" stroke-width="0.7"/>
<path d="M130.4,255.09H176.7" stroke="#800000" stroke-width="2.5"/>
<text x="180.3" y="262.19" fill="#800000">70</text>
<circle cx="203.80" cy="245.59" r="1.3" fill="none" stroke="#800000" stroke-width="0.7"/>
<path d="M130.4,283.66H176.7" stroke="#ff0080" stroke-width="2.5"/>
<text x="180.3" y="290.76" fill="#ff0080">80</text>
<circle cx="203.80" cy="274.16" r="1.3" fill="none" stroke="#ff0080" stroke-width="0.7"/>
<path d="M130.4,312.23H176.7" stroke="#008000" stroke-width="2.5"/>
<text x="180.3" y="319.33" fill="#008000">90</text>
<circle cx="208.80" cy="302.73" r="1.3" fill="none" stroke="#008000" stroke-width="0.7"/>
</g>
</svg></body></html>
